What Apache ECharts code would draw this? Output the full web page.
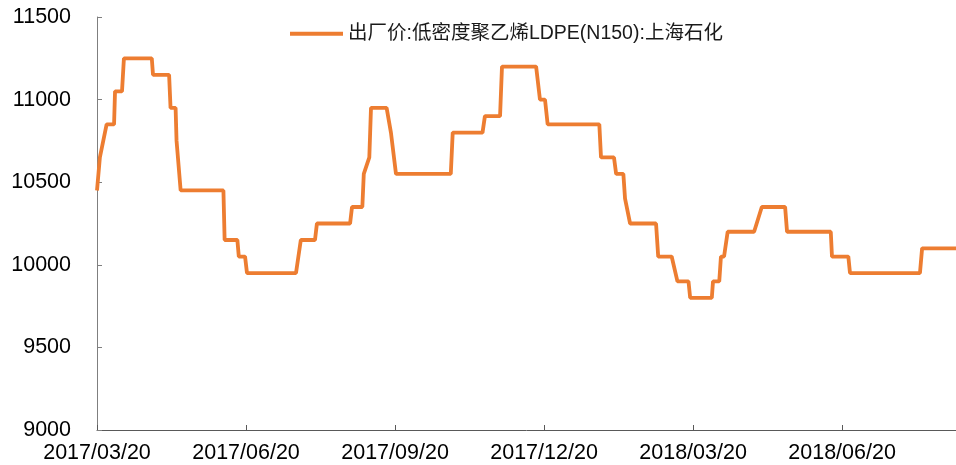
<!DOCTYPE html>
<html>
<head>
<meta charset="utf-8">
<script src="https://cdn.jsdelivr.net/npm/echarts@6/dist/echarts.min.js"></script>
<style>
html,body{margin:0;padding:0;background:#fff;}
#chart{width:956px;height:465px;}
</style>
</head>
<body>
<div id="chart"></div>
<script>
// Tick labels on the x axis (one every tickStep trading days)
const xTickLabels = ['2017/03/20', '2017/06/20', '2017/09/20', '2017/12/20', '2018/03/20', '2018/06/20'];
const tickStep = 62;
const xMax = 357.4;

// Series name
const seriesName = '出厂价:低密度聚乙烯LDPE(N150):上海石化';

// Trading-day index of each vertex of the price line
const dayIndex = [
  0, 0.8, 1.2, 1.6, 4.0, 7.1, 7.5, 10.4, 11.2, 22.8,
  23.3, 30.0, 30.6, 32.7, 33.1, 33.5, 34.8, 52.6, 53.1, 58.4,
  59.0, 61.6, 62.4, 82.8, 84.8, 90.7, 91.5, 105.3, 106.1, 110.4,
  111.0, 113.3, 114.0, 120.5, 122.3, 122.7, 124.4, 147.2, 148.0, 160.4,
  161.4, 167.7, 168.5, 182.7, 184.3, 186.4, 187.5, 209.0, 209.7, 215.1,
  216.0, 219.0, 219.7, 220.1, 221.8, 232.6, 233.5, 239.1, 241.5, 246.1,
  246.8, 255.8, 256.3, 258.9, 259.6, 260.9, 262.4, 273.4, 276.6, 286.3,
  287.1, 305.3, 305.8, 312.6, 313.3, 342.4, 343.3, 357.4
];
// Price (yuan/ton) at each vertex
const priceValues = [
  10450, 10450, 10650, 10650, 10850, 10850, 11050, 11050, 11250, 11250,
  11150, 11150, 10950, 10950, 10750, 10750, 10450, 10450, 10150, 10150,
  10050, 10050, 9950, 9950, 10150, 10150, 10250, 10250, 10350, 10350,
  10550, 10650, 10950, 10950, 10800, 10800, 10550, 10550, 10800, 10800,
  10900, 10900, 11200, 11200, 11000, 11000, 10850, 10850, 10650, 10650,
  10550, 10550, 10400, 10400, 10250, 10250, 10050, 10050, 9900, 9900,
  9800, 9800, 9900, 9900, 10050, 10050, 10200, 10200, 10350, 10350,
  10200, 10200, 10050, 10050, 9950, 9950, 10100, 10100
];

const chart = echarts.init(document.getElementById('chart'));
const fontFamily = '"Liberation Sans", Arial, "Noto Sans CJK SC", sans-serif';
const tickValues = xTickLabels.map((_, i) => i * tickStep);

chart.setOption({
  animation: false,
  backgroundColor: '#ffffff',
  grid: { left: 97, right: 0, top: 17, bottom: 35, containLabel: false },
  legend: {
    show: true,
    left: 290,
    top: 24,
    padding: 0,
    icon: 'rect',
    itemWidth: 53,
    itemHeight: 4,
    textStyle: { fontSize: 19.5, color: '#1a1a1a', fontFamily: fontFamily },
    data: [seriesName]
  },
  xAxis: {
    type: 'value',
    min: 0,
    max: xMax,
    interval: tickStep,
    splitLine: { show: false },
    axisLine: { show: true, lineStyle: { color: '#595959', width: 1 } },
    axisTick: { show: true, inside: true, length: 5, customValues: tickValues, lineStyle: { color: '#595959' } },
    axisLabel: {
      customValues: tickValues,
      margin: 12,
      fontSize: 21.5,
      color: '#000',
      fontFamily: fontFamily,
      formatter: v => xTickLabels[Math.round(v / tickStep)] || ''
    }
  },
  yAxis: {
    type: 'value',
    min: 9000,
    max: 11500,
    interval: 500,
    splitLine: { show: false },
    axisLine: { show: true, lineStyle: { color: '#7f7f7f', width: 1 } },
    axisTick: { show: true, inside: true, length: 5, lineStyle: { color: '#7f7f7f' } },
    axisLabel: { margin: 26, fontSize: 21.5, color: '#000', fontFamily: fontFamily, formatter: v => String(v) }
  },
  series: [{
    name: seriesName,
    type: 'line',
    symbol: 'none',
    showSymbol: false,
    lineStyle: { color: '#ED7D31', width: 3.8 },
    itemStyle: { color: '#ED7D31' },
    data: dayIndex.map((d, i) => [d, priceValues[i]])
  }]
});
</script>
</body>
</html>
